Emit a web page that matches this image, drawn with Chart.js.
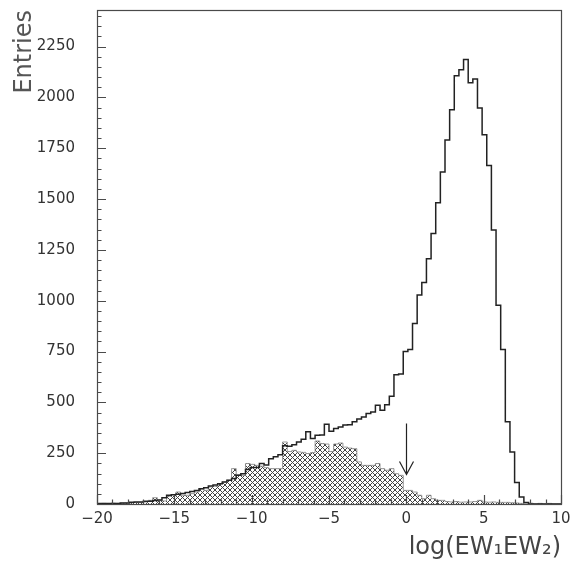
<!DOCTYPE html>
<html><head><meta charset="utf-8">
<script src="https://cdn.jsdelivr.net/npm/chart.js@4.4.1/dist/chart.umd.min.js"></script>
<style>html,body{margin:0;padding:0;background:#fff;overflow:hidden}#wrap{width:580px;height:563px}</style>
</head><body><div id="wrap"><canvas id="c" width="580" height="563"></canvas></div>
<script>
// Histogram definition: 100 bins of width 0.3 from -20 to 10
const xMin = -20;
const binWidth = 0.3;
// All events (open step histogram)
const totalCounts = [
  3, 2, 3, 2, 3, 5, 5, 9, 10, 10,
  13, 13, 17, 20, 31, 43, 45, 48, 52, 56,
  62, 67, 75, 80, 88, 94, 100, 108, 117, 125,
  141, 149, 170, 179, 180, 199, 192, 223, 232, 242,
  286, 284, 292, 305, 318, 355, 322, 338, 340, 392,
  358, 371, 379, 388, 390, 404, 418, 428, 445, 453,
  486, 461, 488, 530, 636, 640, 750, 760, 888, 1028,
  1090, 1206, 1330, 1482, 1633, 1791, 1939, 2107, 2136, 2186,
  2072, 2091, 1948, 1816, 1665, 1348, 978, 760, 404, 256,
  106, 34, 7, 0, 0, 0, 0, 0, 0, 0
];
// Selected subsample (cross-hatched histogram)
const hatchedCounts = [
  2, 3, 2, 4, 3, 4, 5, 6, 8, 8,
  10, 18, 31, 18, 15, 38, 46, 59, 43, 43,
  51, 59, 75, 67, 84, 87, 100, 108, 117, 174,
  144, 141, 199, 195, 190, 186, 179, 174, 174, 174,
  305, 258, 264, 256, 254, 248, 253, 310, 297, 295,
  258, 295, 300, 280, 275, 272, 207, 190, 190, 190,
  199, 174, 166, 174, 149, 141, 67, 67, 59, 43,
  26, 43, 26, 18, 18, 12, 10, 12, 9, 10,
  10, 12, 18, 10, 9, 10, 8, 8, 8, 6,
  5, 3, 0, 4, 0, 3, 0, 3, 0, 0
];
const xTickValues = [-20, -15, -10, -5, 0, 5, 10];
const yTickValues = [0, 250, 500, 750, 1000, 1250, 1500, 1750, 2000, 2250];
const yMax = 2430;
const arrowX = 0;
const arrowFrom = 396;
const arrowTo = 145;

function stepPoints(counts) {
  const pts = counts.map((v, k) => ({ x: xMin + k * binWidth, y: v }));
  pts.push({ x: xMin + counts.length * binWidth, y: 0 });
  return pts;
}

// cross-hatch pattern
const tile = document.createElement('canvas');
tile.width = 5; tile.height = 5;
const tc = tile.getContext('2d');
tc.fillStyle = '#fff'; tc.fillRect(0, 0, 5, 5);
tc.strokeStyle = '#444'; tc.lineWidth = 1;
tc.beginPath();
tc.moveTo(-1, -1); tc.lineTo(6, 6);
tc.moveTo(6, -1); tc.lineTo(-1, 6);
tc.stroke();
const ctx = document.getElementById('c').getContext('2d');
const hatch = ctx.createPattern(tile, 'repeat');

const FONT = 'DejaVu Sans';
const fmt = v => (v < 0 ? '\u2212' + Math.abs(v) : String(v));

const framePlugin = {
  id: 'frame',
  afterDatasetsDraw(chart) {
    const { ctx, chartArea: a, scales: { x, y } } = chart;
    ctx.save();
    ctx.strokeStyle = '#4a4a4a';
    ctx.lineWidth = 1.2;
    ctx.strokeRect(a.left + 0.5, a.top + 0.5, a.right - a.left, a.bottom - a.top);
    ctx.beginPath();
    for (let v = 0; v <= yMax; v += 50) {
      const py = Math.round(y.getPixelForValue(v)) + 0.5;
      const len = (v % 250 === 0) ? 9 : 4.5;
      ctx.moveTo(a.left, py); ctx.lineTo(a.left + len, py);
    }
    for (let v = -20; v <= 10; v += 1) {
      const px = Math.round(x.getPixelForValue(v)) + 0.5;
      const len = (v % 5 === 0) ? 9 : 4.5;
      ctx.moveTo(px, a.bottom); ctx.lineTo(px, a.bottom - len);
    }
    ctx.stroke();
    const ax = Math.round(x.getPixelForValue(arrowX)) + 0.5;
    const y1 = y.getPixelForValue(arrowFrom), y2 = y.getPixelForValue(arrowTo);
    ctx.strokeStyle = '#222';
    ctx.lineWidth = 1.2;
    ctx.beginPath();
    ctx.moveTo(ax, y1); ctx.lineTo(ax, y2);
    ctx.moveTo(ax - 7, y2 - 13); ctx.lineTo(ax, y2); ctx.lineTo(ax + 7, y2 - 13);
    ctx.stroke();
    ctx.restore();
  }
};

new Chart(ctx, {
  type: 'line',
  data: {
    datasets: [
      {
        label: 'all',
        data: stepPoints(totalCounts),
        stepped: 'before',
        borderColor: '#222',
        borderWidth: 1.5,
        pointRadius: 0,
        fill: false
      },
      {
        label: 'selected',
        data: stepPoints(hatchedCounts),
        stepped: 'before',
        borderColor: '#808080',
        borderWidth: 0.8,
        pointRadius: 0,
        fill: 'origin',
        backgroundColor: hatch
      }
    ]
  },
  options: {
    responsive: false,
    animation: false,
    devicePixelRatio: 1,
    layout: { padding: { left: 0, right: 19, top: 10, bottom: 0 } },
    plugins: { legend: { display: false }, tooltip: { enabled: false } },
    scales: {
      x: {
        type: 'linear',
        min: -20, max: 10,
        grid: { display: false },
        border: { display: false },
        afterBuildTicks: s => { s.ticks = xTickValues.map(v => ({ value: v })); },
        afterFit: s => { s.height = 59; s.paddingLeft = 0; s.paddingRight = 0; },
        ticks: {
          callback: v => fmt(v),
          font: { family: FONT, size: 15 },
          color: '#333',
          padding: -2,
          maxRotation: 0
        },
        title: {
          display: true,
          text: 'log(EW\u2081EW\u2082)',
          align: 'end',
          font: { family: FONT, size: 24 },
          color: '#444',
          padding: { top: 0, bottom: 1 }
        }
      },
      y: {
        type: 'linear',
        min: 0, max: yMax,
        grid: { display: false },
        border: { display: false },
        afterBuildTicks: s => { s.ticks = yTickValues.map(v => ({ value: v })); },
        afterFit: s => { s.width = 97; s.paddingTop = 0; s.paddingBottom = 0; },
        ticks: {
          callback: v => String(v),
          font: { family: FONT, size: 15 },
          color: '#333',
          padding: 14
        },
        title: {
          display: true,
          text: 'Entries',
          align: 'end',
          font: { family: FONT, size: 24 },
          color: '#555',
          padding: { top: 10, bottom: 0 }
        }
      }
    }
  },
  plugins: [framePlugin]
});
</script>
</body></html>
